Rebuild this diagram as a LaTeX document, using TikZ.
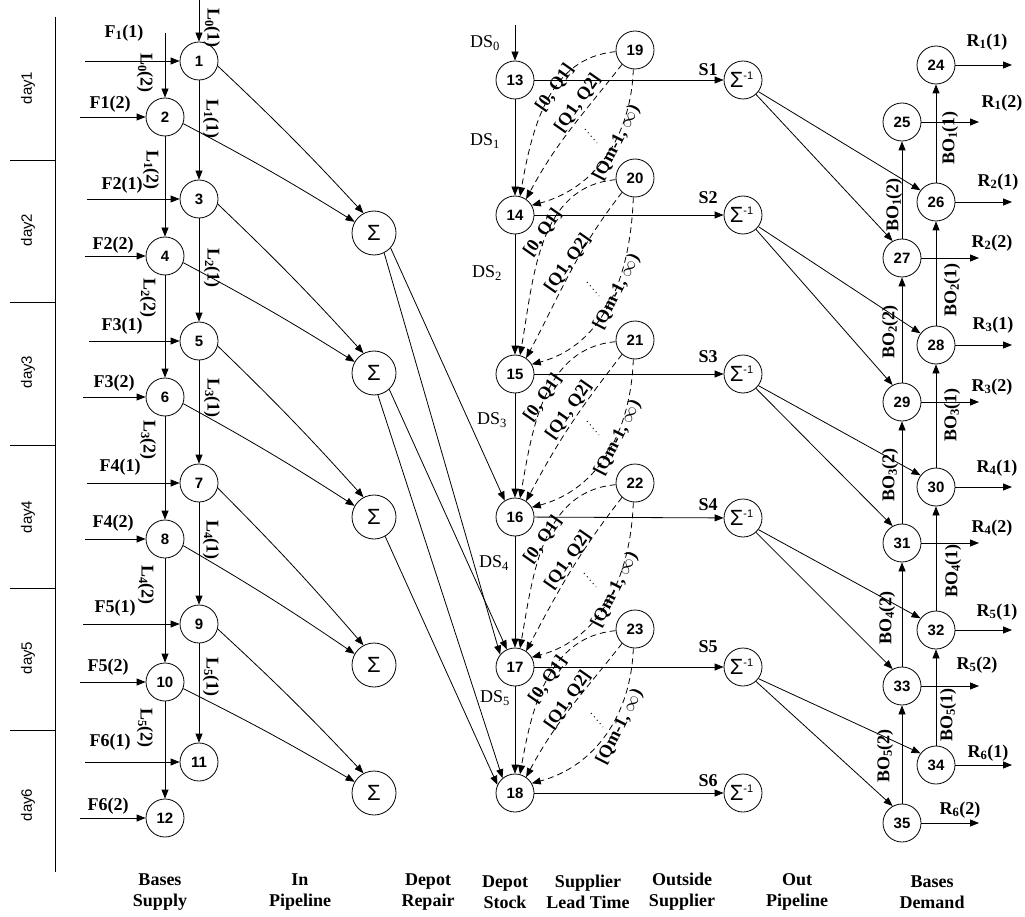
\documentclass[tikz,border=0pt]{standalone}
\usepackage{fontspec}
\setmainfont{Liberation Serif}
\setsansfont{Liberation Sans}
\usetikzlibrary{arrows.meta}
\begin{document}
\begin{tikzpicture}[x=1pt,y=1pt,
  nd/.style={circle,draw,line width=0.8pt,minimum size=38pt,inner sep=0pt,font=\sffamily\bfseries\fontsize{15}{15}\selectfont},
  sg/.style={circle,draw,line width=0.8pt,minimum size=44pt,inner sep=0pt,font=\sffamily\fontsize{22}{22}\selectfont},
  si/.style={circle,draw,line width=0.8pt,minimum size=38pt,inner sep=0pt,font=\sffamily\fontsize{22}{22}\selectfont},
  arr/.style={line width=0.8pt,-{Triangle[length=9pt,width=7pt]}},
  dsh/.style={arr,dash pattern=on 6pt off 4pt},
  ln/.style={line width=0.8pt},
  lb/.style={font=\bfseries\fontsize{18}{18}\selectfont,inner sep=0pt},
  dsl/.style={font=\fontsize{18}{18}\selectfont,inner sep=0pt},
  dayl/.style={font=\sffamily\fontsize{15}{15}\selectfont,rotate=90,inner sep=0pt},
  hd/.style={font=\bfseries\fontsize{18}{21}\selectfont,align=center,inner sep=0pt},
  dotl/.style={line width=1pt,dash pattern=on 1pt off 3.5pt},
]
\useasboundingbox (0,0) rectangle (1025,-917);

% ---- day axis ----
\draw[ln] (55,-17) -- (55,-872);
\foreach \y in {160,302,445,588,730} \draw[ln] (10,-\y) -- (55,-\y);
\foreach \i/\y in {1/88,2/230,3/372,4/517,5/658,6/805}
  \node[dayl] (day\i) at (28,-\y) {day\i};

% ---- bases supply nodes ----
\foreach \n/\x/\y in {1/199/61,3/199/199,5/199/341,7/199/483,9/199/624,11/199/762,
                      2/165/117,4/165/256,6/165/397,8/165/539,10/165/682,12/165/818}
  \node[nd] (n\n) at (\x,-\y) {\n};

% ---- sigma nodes ----
\foreach \i/\y in {1/233,2/373,3/517,4/665,5/793}
  \node[sg] (s\i) at (374,-\y) {Σ};

% ---- depot stock ----
\foreach \n/\y in {13/80,14/215,15/374,16/517,17/667,18/793}
  \node[nd] (n\n) at (515,-\y) {\n};
% ---- supplier lead time ----
\foreach \n/\y in {19/50,20/178,21/340,22/483,23/629}
  \node[nd] (n\n) at (635,-\y) {\n};
% ---- out pipeline ----
\foreach \i/\y in {1/80,2/215,3/374,4/518,5/667,6/793}
  \node[si] (si\i) at (743,-\y) {\hspace*{-3pt}Σ\raisebox{8pt}{\fontsize{11}{11}\selectfont -1}};
% ---- bases demand ----
\foreach \n/\x/\y in {24/936/65,26/936/202,28/936/345,30/936/487,32/936/630,34/936/765,
                      25/902/122,27/902/258,29/902/402,31/902/543,33/902/686,35/902/823}
  \node[nd] (n\n) at (\x,-\y) {\n};

% ---- F inputs ----
\foreach \n/\sx/\lx/\ly/\t in {1/85/124/33/F\textsubscript{1}(1),2/80/110/104/F1(2),
   3/87/122/185/F2(1),4/85/113/245/F2(2),5/89/122/326/F3(1),6/83/114/383/F3(2),
   7/87/120/467/F4(1),8/85/113/523/F4(2),9/83/115/608/F5(1),10/80/108/667/F5(2),
   11/85/110/742/F6(1),12/80/108/806/F6(2)}{
  \coordinate (f\n) at (\sx,0 |- n\n);
  \draw[arr] (f\n) -- (n\n);
  \node[lb] (fl\n) at (\lx,-\ly) {\t};
}

% ---- pipelines of bases supply ----
\coordinate (top1) at (199,0);
\coordinate (top2) at (165,-33);
\draw[arr] (top1) -- (n1);
\draw[arr] (top2) -- (n2);
\foreach \a/\b in {1/3,3/5,5/7,7/9,9/11,2/4,4/6,6/8,8/10,10/12}
  \draw[arr] (n\a) -- (n\b);
\foreach \x/\y/\t in {212/28/L\textsubscript{0}(1),145/73/L\textsubscript{0}(2),
   211/119/L\textsubscript{1}(1),151/170/L\textsubscript{1}(2),
   212/268/L\textsubscript{2}(1),148/298/L\textsubscript{2}(2),
   212/398/L\textsubscript{3}(1),148/440/L\textsubscript{3}(2),
   211/540/L\textsubscript{4}(1),146/585/L\textsubscript{4}(2),
   211/677/L\textsubscript{5}(1),145/728/L\textsubscript{5}(2)}
  \node[lb,rotate=-90] at (\x,-\y) {\t};

% ---- into in-pipeline sums ----
\foreach \a/\b/\s in {1/2/1,3/4/2,5/6/3,7/8/4,9/10/5}{
  \draw[arr] (n\a.-15) to[bend left=2] (s\s.118);
  \draw[arr] (n\b.-20) to[bend left=2] (s\s.150);
}

% ---- sums to depot stock ----
\draw[arr] (s1.-42) -- (n16.122);
\draw[arr] (s1.-63) -- (n17.140);
\draw[arr] (s2.-47) -- (n17.115);
\draw[arr] (s2.-80) -- (n18.130);
\draw[arr] (s3.-60) -- (n18.155);

% ---- depot stock chain ----
\coordinate (ds0) at (515,-25);
\draw[arr] (ds0) -- (n13);
\foreach \a/\b in {13/14,14/15,15/16,16/17,17/18}
  \draw[arr] (n\a) -- (n\b);
\foreach \i/\x/\y in {0/485/43,1/485/141,2/487/273,3/492/420,4/494/563,5/495/698}
  \node[dsl] (dsl\i) at (\x,-\y) {DS\textsubscript{\i}};

% ---- supplier lead time dashed arcs ----
\foreach \s/\t in {19/14,20/15,21/16,22/17,23/18}{
  \draw[dsh] (n\s.185) to[out=185,in=80] (n\t.75);
  \draw[dsh] (n\s.228) to[out=232,in=62] (n\t.55);
  \draw[dsh] (n\s.265) to[out=268,in=15] (n\t.30);
}
\foreach \ax/\ay/\bx/\by/\cx/\cy/\dx/\dy in {
   555/88/578/103/617/143/591/136,
   543/233/568/263/617/292/593/289,
   543/398/569/410/618/438/593/428,
   543/540/568/560/615/590/590/580,
   548/680/568/700/620/727/597/720}{
  \node[lb,rotate=55] at (\ax,-\ay) {[0, Q1]};
  \node[lb,rotate=55] at (\bx,-\by) {[Q1, Q2]};
  \node[lb,rotate=63] at (\cx,-\cy) {[Qm-1, $\infty$)};
  \coordinate (da) at ({\dx-6},{-\dy+7});
  \coordinate (db) at ({\dx+6},{-\dy-7});
  \draw[dotl] (da) -- (db);
}

% ---- outside supplier to out pipeline ----
\foreach \a/\b/\y in {13/1/70,14/2/198,15/3/357,16/4/505,17/5/647,18/6/781}{
  \draw[arr] (n\a) -- (si\b);
  \node[lb] (sl\b) at (708,-\y) {S\b};
}

% ---- out pipeline to bases demand ----
\foreach \i/\a/\b in {1/26/27,2/28/29,3/30/31,4/32/33,5/34/35}{
  \draw[arr] (si\i.-37) -- (n\a.143);
  \draw[arr] (si\i.-48) -- (n\b.119);
}

% ---- backorder chains ----
\foreach \a/\b in {26/24,28/26,30/28,32/30,34/32,27/25,29/27,31/29,33/31,35/33}
  \draw[arr] (n\a) -- (n\b);
\foreach \x/\y/\t in {950/138/BO\textsubscript{1}(1),952/290/BO\textsubscript{2}(1),
   952/415/BO\textsubscript{3}(1),953/571/BO\textsubscript{4}(1),948/715/BO\textsubscript{5}(1),
   894/205/BO\textsubscript{1}(2),890/332/BO\textsubscript{2}(2),890/475/BO\textsubscript{3}(2),
   887/618/BO\textsubscript{4}(2),885/756/BO\textsubscript{5}(2)}
  \node[lb,rotate=90] at (\x,-\y) {\t};

% ---- demand outputs ----
\foreach \n/\ex/\lx/\ly/\t in {24/1012/987/42/R\textsubscript{1}(1),25/979/1002/103/R\textsubscript{1}(2),
   26/1012/998/182/R\textsubscript{2}(1),27/979/992/243/R\textsubscript{2}(2),
   28/1012/993/325/R\textsubscript{3}(1),29/979/992/387/R\textsubscript{3}(2),
   30/1012/997/468/R\textsubscript{4}(1),31/979/992/528/R\textsubscript{4}(2),
   32/1012/997/612/R\textsubscript{5}(1),33/979/977/665/R\textsubscript{5}(2),
   34/1012/988/753/R\textsubscript{6}(1),35/979/960/810/R\textsubscript{6}(2)}{
  \coordinate (r\n) at (\ex,0 |- n\n);
  \draw[arr] (n\n) -- (r\n);
  \node[lb] (rl\n) at (\lx,-\ly) {\t};
}

% ---- column headings ----
\foreach \x/\t in {160/Bases\\Supply,300/In\\Pipeline,428/Depot\\Repair,505/Depot\\Stock,
   588/Supplier\\Lead Time,682/Outside\\Supplier,797/Out\\Pipeline,932/Bases\\Demand}
  \node[hd] at (\x,-892) {\t};
\end{tikzpicture}
\end{document}
